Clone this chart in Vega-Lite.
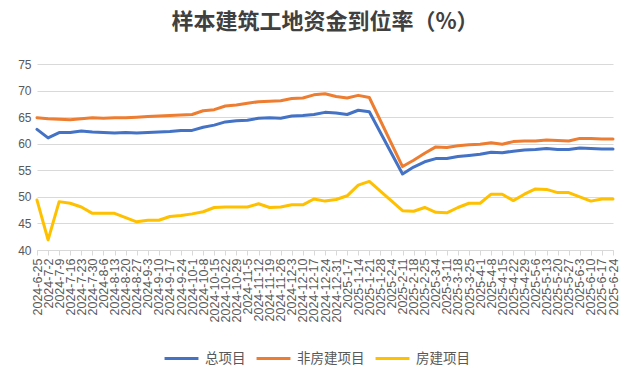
{
  "$schema": "https://vega.github.io/schema/vega-lite/v6.json",
  "width": 576,
  "height": 186,
  "autosize": {"type": "none"},
  "padding": {"left": 37, "top": 64, "right": 22, "bottom": 134},
  "background": "white",
  "title": {
    "text": "样本建筑工地资金到位率（%）",
    "font": "Noto Sans CJK SC",
    "fontSize": 22,
    "fontWeight": "bold",
    "color": "#404040",
    "anchor": "middle",
    "offset": 24
  },
  "data": {
    "values": [
      {"date": "2024-6-25", "总项目": 62.7, "非房建项目": 64.9, "房建项目": 49.4},
      {"date": "2024-7-2", "总项目": 61.1, "非房建项目": 64.7, "房建项目": 41.9},
      {"date": "2024-7-9", "总项目": 62.1, "非房建项目": 64.6, "房建项目": 49.1},
      {"date": "2024-7-16", "总项目": 62.1, "非房建项目": 64.5, "房建项目": 48.8},
      {"date": "2024-7-23", "总项目": 62.4, "非房建项目": 64.7, "房建项目": 48.1},
      {"date": "2024-7-30", "总项目": 62.2, "非房建项目": 64.9, "房建项目": 46.9},
      {"date": "2024-8-6", "总项目": 62.1, "非房建项目": 64.8, "房建项目": 46.9},
      {"date": "2024-8-13", "总项目": 62.0, "非房建项目": 64.9, "房建项目": 46.9},
      {"date": "2024-8-20", "总项目": 62.1, "非房建项目": 64.9, "房建项目": 46.1},
      {"date": "2024-8-27", "总项目": 62.0, "非房建项目": 65.0, "房建项目": 45.3},
      {"date": "2024-9-3", "总项目": 62.1, "非房建项目": 65.1, "房建项目": 45.6},
      {"date": "2024-9-10", "总项目": 62.2, "非房建项目": 65.2, "房建项目": 45.6},
      {"date": "2024-9-17", "总项目": 62.3, "非房建项目": 65.3, "房建项目": 46.3},
      {"date": "2024-9-24", "总项目": 62.5, "非房建项目": 65.4, "房建项目": 46.5},
      {"date": "2024-10-1", "总项目": 62.5, "非房建项目": 65.5, "房建项目": 46.8},
      {"date": "2024-10-8", "总项目": 63.1, "非房建项目": 66.2, "房建项目": 47.2},
      {"date": "2024-10-15", "总项目": 63.5, "非房建项目": 66.4, "房建项目": 48.0},
      {"date": "2024-10-22", "总项目": 64.1, "非房建项目": 67.1, "房建项目": 48.1},
      {"date": "2024-10-29", "总项目": 64.3, "非房建项目": 67.3, "房建项目": 48.1},
      {"date": "2024-11-5", "总项目": 64.4, "非房建项目": 67.6, "房建项目": 48.1},
      {"date": "2024-11-12", "总项目": 64.8, "非房建项目": 67.9, "房建项目": 48.7},
      {"date": "2024-11-19", "总项目": 64.9, "非房建项目": 68.0, "房建项目": 48.0},
      {"date": "2024-11-26", "总项目": 64.8, "非房建项目": 68.1, "房建项目": 48.1},
      {"date": "2024-12-3", "总项目": 65.2, "非房建项目": 68.5, "房建项目": 48.5},
      {"date": "2024-12-10", "总项目": 65.3, "非房建项目": 68.6, "房建项目": 48.5},
      {"date": "2024-12-17", "总项目": 65.5, "非房建项目": 69.2, "房建项目": 49.6},
      {"date": "2024-12-24", "总项目": 65.9, "非房建项目": 69.4, "房建项目": 49.2},
      {"date": "2024-12-31", "总项目": 65.8, "非房建项目": 68.9, "房建项目": 49.5},
      {"date": "2025-1-7", "总项目": 65.5, "非房建项目": 68.6, "房建项目": 50.2},
      {"date": "2025-1-14", "总项目": 66.3, "非房建项目": 69.1, "房建项目": 52.2},
      {"date": "2025-1-21", "总项目": 66.0, "非房建项目": 68.7, "房建项目": 52.9},
      {"date": "2025-2-11", "总项目": 54.3, "非房建项目": 55.7, "房建项目": 47.4},
      {"date": "2025-2-18", "总项目": 55.6, "非房建项目": 56.9, "房建项目": 47.3},
      {"date": "2025-2-25", "总项目": 56.6, "非房建项目": 58.2, "房建项目": 48.0},
      {"date": "2025-3-4", "总项目": 57.2, "非房建项目": 59.4, "房建项目": 47.1},
      {"date": "2025-3-11", "总项目": 57.2, "非房建项目": 59.3, "房建项目": 47.0},
      {"date": "2025-3-18", "总项目": 57.6, "非房建项目": 59.6, "房建项目": 48.0},
      {"date": "2025-3-25", "总项目": 57.8, "非房建项目": 59.8, "房建项目": 48.8},
      {"date": "2025-4-1", "总项目": 58.0, "非房建项目": 59.9, "房建项目": 48.8},
      {"date": "2025-4-8", "总项目": 58.4, "非房建项目": 60.2, "房建项目": 50.5},
      {"date": "2025-4-15", "总项目": 58.3, "非房建项目": 59.9, "房建项目": 50.5},
      {"date": "2025-4-22", "总项目": 58.6, "非房建项目": 60.4, "房建项目": 49.3},
      {"date": "2025-4-29", "总项目": 58.8, "非房建项目": 60.5, "房建项目": 50.5},
      {"date": "2025-5-6", "总项目": 58.9, "非房建项目": 60.5, "房建项目": 51.5},
      {"date": "2025-5-13", "总项目": 59.1, "非房建项目": 60.7, "房建项目": 51.4},
      {"date": "2025-5-20", "总项目": 58.9, "非房建项目": 60.6, "房建项目": 50.8},
      {"date": "2025-5-27", "总项目": 58.9, "非房建项目": 60.5, "房建项目": 50.8},
      {"date": "2025-6-3", "总项目": 59.2, "非房建项目": 61.0, "房建项目": 50.0},
      {"date": "2025-6-10", "总项目": 59.1, "非房建项目": 61.0, "房建项目": 49.2},
      {"date": "2025-6-17", "总项目": 59.0, "非房建项目": 60.9, "房建项目": 49.6},
      {"date": "2025-6-24", "总项目": 59.0, "非房建项目": 60.9, "房建项目": 49.6}
    ]
  },
  "transform": [
    {"fold": ["总项目", "非房建项目", "房建项目"], "as": ["series", "value"]}
  ],
  "mark": {"type": "line", "strokeWidth": 3, "strokeCap": "round", "strokeJoin": "round"},
  "encoding": {
    "x": {
      "field": "date",
      "type": "ordinal",
      "sort": null,
      "scale": {
        "type": "point",
        "padding": 0,
        "domain": ["2024-6-25","2024-7-2","2024-7-9","2024-7-16","2024-7-23","2024-7-30","2024-8-6","2024-8-13","2024-8-20","2024-8-27","2024-9-3","2024-9-10","2024-9-17","2024-9-24","2024-10-1","2024-10-8","2024-10-15","2024-10-22","2024-10-29","2024-11-5","2024-11-12","2024-11-19","2024-11-26","2024-12-3","2024-12-10","2024-12-17","2024-12-24","2024-12-31","2025-1-7","2025-1-14","2025-1-21","2025-1-28","2025-2-4","2025-2-11","2025-2-18","2025-2-25","2025-3-4","2025-3-11","2025-3-18","2025-3-25","2025-4-1","2025-4-8","2025-4-15","2025-4-22","2025-4-29","2025-5-6","2025-5-13","2025-5-20","2025-5-27","2025-6-3","2025-6-10","2025-6-17","2025-6-24"]
      },
      "axis": {
        "title": null,
        "labelAngle": -90,
        "labelOverlap": false,
        "labelFont": "Liberation Sans",
        "labelFontSize": 12.5,
        "labelColor": "#595959",
        "labelPadding": 3,
        "domainColor": "#d9d9d9",
        "tickColor": "#d9d9d9",
        "tickSize": 5,
        "grid": false
      }
    },
    "y": {
      "field": "value",
      "type": "quantitative",
      "scale": {"domain": [40, 75], "nice": false, "zero": false},
      "axis": {
        "title": null,
        "values": [40, 45, 50, 55, 60, 65, 70, 75],
        "labelFont": "Liberation Sans",
        "labelFontSize": 12,
        "labelColor": "#595959",
        "labelPadding": 6,
        "domain": false,
        "ticks": false,
        "grid": true,
        "gridColor": "#d9d9d9"
      }
    },
    "color": {
      "field": "series",
      "type": "nominal",
      "scale": {
        "domain": ["总项目", "非房建项目", "房建项目"],
        "range": ["#4472C4", "#ED7D31", "#FFC000"]
      },
      "legend": {
        "title": null,
        "orient": "none",
        "direction": "horizontal",
        "legendX": 126,
        "legendY": 276,
        "symbolType": "stroke",
        "symbolSize": 1150,
        "symbolStrokeWidth": 3,
        "labelFont": "Noto Sans CJK SC",
        "labelFontSize": 13.5,
        "labelColor": "#595959",
        "columnPadding": 4,
        "labelOffset": 5
      }
    }
  },
  "config": {
    "view": {"stroke": null}
  }
}
